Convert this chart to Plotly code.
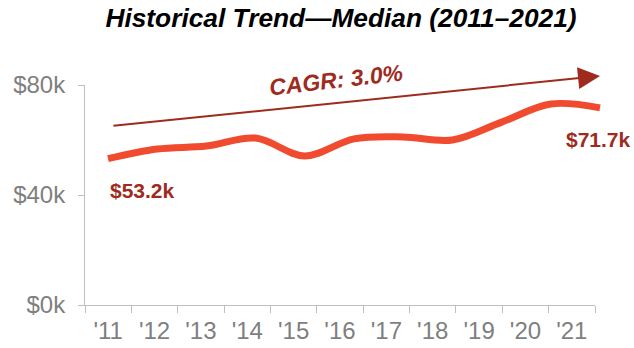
import plotly.graph_objects as go

years = ["'11", "'12", "'13", "'14", "'15", "'16", "'17", "'18", "'19", "'20", "'21"]
median_k = [53.2, 56.7, 57.8, 60.7, 54.2, 60.4, 61.1, 60.0, 66.5, 73.1, 71.7]
y_ticks = [0, 40, 80]
y_tick_text = ["$0k", "$40k", "$80k"]
cagr_text = "CAGR: 3.0%"
trend_start = 65.1
trend_end = 83.3

LINE = "#F04B2F"
DARK = "#9E2B1E"
GRAY = "#7F7F7F"
AX = "#BFBFBF"
FONT = "Liberation Sans, Arial, sans-serif"

idx = list(range(len(years)))

fig = go.Figure()
# invisible trace to establish the category axis
fig.add_trace(go.Scatter(x=years, y=[None] * len(years), mode="lines",
                         showlegend=False, hoverinfo="skip"))
fig.add_trace(go.Scatter(x=idx, y=median_k, xaxis="x2", yaxis="y", mode="lines",
                         line=dict(color=LINE, width=7, shape="spline", smoothing=1.0),
                         showlegend=False))

fig.update_layout(
    width=634, height=348,
    margin=dict(l=85, r=24, t=85, b=43, autoexpand=False),
    paper_bgcolor="white", plot_bgcolor="white",
    font=dict(family=FONT),
    title=dict(text="<b><i>Historical Trend—Median (2011–2021)</i></b>",
               x=341 / 634, xanchor="center", xref="container",
               y=1 - 18 / 348, yanchor="middle", yref="container",
               font=dict(size=26.3, color="black", family=FONT)),
    xaxis=dict(type="category", domain=[0, 510 / 525], range=[-0.5, 10.5],
               automargin=False,
               showline=True, linecolor=AX, linewidth=1,
               ticks="outside", ticklen=7, tickcolor=AX, tickson="boundaries",
               tickfont=dict(size=24, color=GRAY), showgrid=False, zeroline=False,
               ticklabelstandoff=4),
    xaxis2=dict(domain=[0, 1], anchor="y", range=[-0.4675, 10.203],
                automargin=False,
                visible=False, showgrid=False, zeroline=False),
    yaxis=dict(range=[0, 80], tickvals=y_ticks, ticktext=y_tick_text,
               automargin=False,
               showline=True, linecolor=AX, linewidth=1,
               ticks="outside", ticklen=6, tickcolor=AX,
               tickfont=dict(size=24, color=GRAY), showgrid=False, zeroline=False,
               ticklabelstandoff=8),
)

# CAGR trend arrow
fig.add_annotation(x=10, y=trend_end, xref="x2", yref="y",
                   ax=0.08, ay=trend_start, axref="x2", ayref="y",
                   showarrow=True, arrowhead=2, arrowsize=2.2, arrowwidth=2,
                   arrowcolor=DARK, text="")
# CAGR label (paper coords so it is not hidden above the y range)
fig.add_annotation(x=(336 - 85) / 525, y=1 + (85 - 80) / 220, xref="paper", yref="paper",
                   text="<b><i>" + cagr_text + "</i></b>",
                   showarrow=False, textangle=-6.5, xanchor="center", yanchor="middle",
                   font=dict(size=23, color=DARK, family=FONT))
fig.add_annotation(x=0, y=median_k[0], xref="x2", yref="y",
                   text="<b>$%.1fk</b>" % median_k[0], showarrow=False,
                   xanchor="left", yanchor="middle", yshift=-32, xshift=0,
                   font=dict(size=21, color=DARK, family=FONT))
fig.add_annotation(x=10, y=median_k[-1], xref="x2", yref="y",
                   text="<b>$%.1fk</b>" % median_k[-1], showarrow=False,
                   xanchor="right", yanchor="middle", yshift=-32, xshift=33,
                   font=dict(size=21, color=DARK, family=FONT))

fig.write_html("out.html", config={"displayModeBar": False},
               post_script="document.body.style.margin='0';")
